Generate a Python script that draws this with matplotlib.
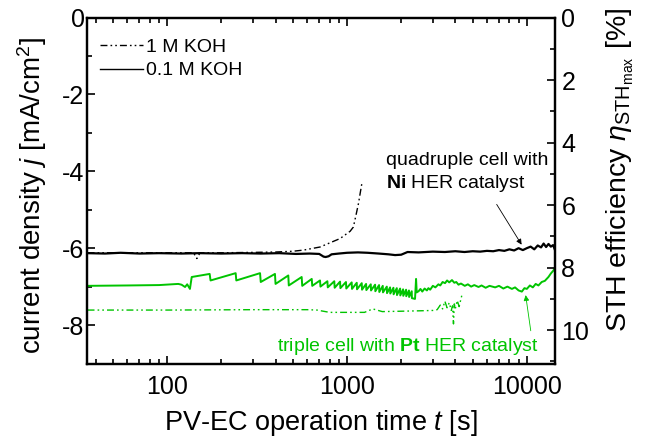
import matplotlib
matplotlib.use("Agg")
import matplotlib.pyplot as plt
from matplotlib.lines import Line2D
from matplotlib.ticker import FixedLocator, NullFormatter, FixedFormatter

plt.rcParams['font.family'] = ['Liberation Sans', 'DejaVu Sans']
plt.rcParams['mathtext.fontset'] = 'custom'
plt.rcParams['mathtext.rm'] = 'Liberation Sans'
plt.rcParams['mathtext.it'] = 'Liberation Sans:italic'
plt.rcParams['mathtext.bf'] = 'Liberation Sans:bold'
plt.rcParams['axes.unicode_minus'] = False

GREEN = '#00c400'

# ---------------- data ----------------
# quadruple cell, Ni HER catalyst, 0.1 M KOH (black solid)
t_ni_01 = [36, 45, 55, 70, 90, 120, 150, 200, 260, 330, 420, 520, 620, 700, 740, 760, 790,
           820, 900, 1000, 1150, 1300, 1500, 1700, 1850, 2000, 2170, 2500, 3000, 3500, 4000,
           4500, 5000, 5500, 6000, 6500, 7000, 7500, 8000, 8500, 9000, 9500, 10000, 10500,
           11000, 11500, 12000, 12400, 12800, 13200, 13600, 14000, 14350]
j_ni_01 = [-6.13, -6.14, -6.12, -6.14, -6.13, -6.14, -6.13, -6.14, -6.13, -6.14, -6.13, -6.15,
           -6.14, -6.15, -6.22, -6.23, -6.21, -6.16, -6.14, -6.12, -6.11, -6.12, -6.14, -6.16,
           -6.18, -6.17, -6.10, -6.11, -6.09, -6.10, -6.08, -6.10, -6.08, -6.09, -6.07, -6.08,
           -6.05, -6.07, -6.03, -6.06, -6.00, -6.05, -6.00, -5.96, -6.03, -5.93, -5.98, -5.88,
           -5.97, -5.89, -5.96, -5.92, -6.05]

# quadruple cell, Ni HER catalyst, 1 M KOH (black dash-dot)
t_ni_1 = [36, 60, 100, 140, 146, 152, 200, 300, 400, 500, 572, 707, 914, 1040, 1084, 1120,
          1157, 1185, 1208]
j_ni_1 = [-6.12, -6.12, -6.12, -6.12, -6.27, -6.12, -6.12, -6.11, -6.10, -6.08, -6.05, -5.97,
          -5.75, -5.56, -5.45, -5.15, -4.84, -4.55, -4.32]

# triple cell, Pt HER catalyst, 0.1 M KOH (green solid)
t_pt_01 = [36, 60, 90, 115, 120, 125.5, 129, 133.6, 136.7, 172, 174, 240, 242, 328, 331,
           397, 400, 471, 474, 559, 563, 636, 640, 707, 711, 777, 781, 849, 853, 914, 918,
           986, 990, 1061, 1065, 1132, 1136, 1207, 1211, 1276, 1280, 1355, 1359, 1432, 1436,
           1507, 1511, 1580, 1584, 1664, 1668, 1735, 1739, 1811, 1815, 1891, 1895, 1973, 1977,
           2050, 2054, 2130, 2134, 2210, 2214, 2290, 2294, 2388, 2420, 2440, 2500, 2560,
           2620, 2700, 2780, 2834, 2900, 3000, 3100, 3222, 3300, 3400, 3508, 3600, 3700,
           3833, 3950, 4050, 4167, 4300, 4516, 4700, 4900, 5100, 5385, 5600, 5900, 6200,
           6667, 7000, 7400, 7800, 8260, 8600, 9000, 9380, 9700, 10000, 10400, 10800, 11200,
           11600, 12100, 12600, 13190, 13600, 14060, 14350]
j_pt_01 = [-6.98, -6.97, -6.96, -6.93, -6.95, -7.01, -6.94, -7.06, -6.75, -6.67, -6.84,
           -6.65, -6.84, -6.65, -6.88, -6.67, -6.93, -6.71, -6.97, -6.75, -6.98, -6.80, -6.98,
           -6.84, -7.00, -6.86, -7.02, -6.86, -7.03, -6.87, -7.04, -6.88, -7.05, -6.89, -7.06,
           -6.90, -7.07, -6.91, -7.08, -6.93, -7.09, -6.94, -7.10, -6.95, -7.12, -6.96, -7.14,
           -6.98, -7.15, -7.00, -7.17, -7.02, -7.18, -7.03, -7.20, -7.04, -7.22, -7.05, -7.23,
           -7.07, -7.24, -7.08, -7.25, -7.10, -7.27, -7.12, -7.30, -7.32, -6.80, -7.15, -7.12,
           -7.06, -7.13, -7.05, -7.10, -7.04, -7.08, -6.98, -7.02, -6.94, -6.97, -6.88, -6.91,
           -6.84, -6.89, -6.83, -6.90, -6.88, -6.95, -6.92, -6.98, -6.94, -7.00, -6.96, -7.01,
           -6.97, -7.03, -6.98, -7.02, -6.98, -7.05, -7.00, -7.06, -7.02, -7.10, -7.13, -7.04,
           -7.06, -6.97, -7.02, -6.93, -6.97, -6.88, -6.85, -6.75, -6.66, -6.58, -6.50]

# triple cell, Pt HER catalyst, 1 M KOH (green dash-dot)
t_pt_1 = [36, 100, 300, 600, 680, 800, 1000, 1250, 1390, 1570, 2000, 2500, 3000, 3170, 3300,
          3400, 3500, 3600, 3700, 3800, 3860, 3908, 3950, 4000, 4100, 4200, 4348]
j_pt_1 = [-7.61, -7.61, -7.60, -7.60, -7.61, -7.67, -7.67, -7.67, -7.58, -7.65, -7.64, -7.63,
          -7.62, -7.60, -7.48, -7.58, -7.38, -7.55, -7.42, -7.62, -7.50, -7.97, -7.45, -7.58,
          -7.36, -7.52, -7.23]

legend_labels = ['1 M KOH', '0.1 M KOH']
y_ticks = [0, -2, -4, -6, -8]
y_minor = [-1, -3, -5, -7, -9]
sth_ticks = [0, 2, 4, 6, 8, 10]
sth_minor = [1, 3, 5, 7, 9, 11]
x_ticks = [100, 1000, 10000]

# ---------------- figure ----------------
fig = plt.figure(figsize=(6.45, 4.42), dpi=100)
ax = fig.add_axes([0.1344, 0.1776, 0.7261, 0.7828])

DASH = (0, (5, 2.2, 1.2, 2.2, 1.2, 2.2))

ax.plot(t_pt_1, j_pt_1, color=GREEN, lw=1.0, linestyle=DASH)
ax.plot(t_pt_01, j_pt_01, color=GREEN, lw=1.4)
ax.plot(t_ni_1, j_ni_1, color='black', lw=1.0, linestyle=DASH)
ax.plot(t_ni_01, j_ni_01, color='black', lw=1.6)

ax.set_xscale('log')
ax.set_xlim(35.6, 14350)
ax.set_ylim(-9, 0)

ax.xaxis.set_major_locator(FixedLocator(x_ticks))
ax.xaxis.set_major_formatter(FixedFormatter([str(v) for v in x_ticks]))
ax.xaxis.set_minor_formatter(NullFormatter())
ax.yaxis.set_major_locator(FixedLocator(y_ticks))
ax.yaxis.set_major_formatter(FixedFormatter([str(v) for v in y_ticks]))
ax.yaxis.set_minor_locator(FixedLocator(y_minor))

for s in ax.spines.values():
    s.set_linewidth(1.6)

ax.tick_params(axis='both', which='both', direction='in', top=True, right=False,
               width=1.2)
ax.tick_params(axis='both', which='major', length=6, labelsize=18)
ax.tick_params(axis='both', which='minor', length=3.8)
ax.tick_params(axis='x', which='major', pad=8)
ax.tick_params(axis='y', which='major', pad=1.5)

ax.set_xlabel('PV-EC operation time $t$ [s]', fontsize=19.5)
ax.xaxis.set_label_coords(0.50, -0.128)
ax.set_ylabel('current density $j$ [mA/cm$^2$]', fontsize=20)
ax.yaxis.set_label_coords(-0.080, 0.487)

ax2 = ax.twinx()
ax2.set_ylim(11.07, 0)
ax2.yaxis.set_major_locator(FixedLocator(sth_ticks))
ax2.yaxis.set_major_formatter(FixedFormatter([str(v) for v in sth_ticks]))
ax2.yaxis.set_minor_locator(FixedLocator(sth_minor))
ax2.tick_params(axis='y', which='both', direction='in', width=1.2)
ax2.tick_params(axis='y', which='major', length=6, labelsize=18, pad=4.5)
ax2.tick_params(axis='y', which='minor', length=3.8)
for s in ax2.spines.values():
    s.set_linewidth(1.6)
ax2.set_ylabel(r'STH efficiency $\eta_{\mathrm{STH}_{\mathrm{max}}}$ [%]', fontsize=20.5)
ax2.yaxis.set_label_coords(1.105, 0.560)

# legend
handles = [Line2D([], [], color='black', lw=1.0, linestyle=DASH),
           Line2D([], [], color='black', lw=1.0)]
ax.legend(handles, legend_labels, loc='upper left', bbox_to_anchor=(0.028, 0.94),
          frameon=False, fontsize=14, handlelength=2.2, handletextpad=0.2,
          labelspacing=0.3, borderpad=0, borderaxespad=0)

# annotations
ax.text(1648, -3.825, 'quadruple cell with', fontsize=14, ha='left', va='baseline')
ax.text(1640, -4.44, r'$\mathbf{Ni}$ HER catalyst', fontsize=14, ha='left', va='baseline')
ax.annotate('', xy=(9530, -5.97), xytext=(6670, -4.80),
            arrowprops=dict(arrowstyle='-|>', color='black', lw=0.6, mutation_scale=8))

ax.text(406, -8.67, r'triple cell with $\mathbf{Pt}$ HER catalyst', fontsize=14,
        color=GREEN, ha='left', va='baseline')
ax.annotate('', xy=(9800, -7.15), xytext=(10570, -8.22),
            arrowprops=dict(arrowstyle='-|>', color=GREEN, lw=0.6, mutation_scale=8))

fig.savefig('out.png', dpi=100)
